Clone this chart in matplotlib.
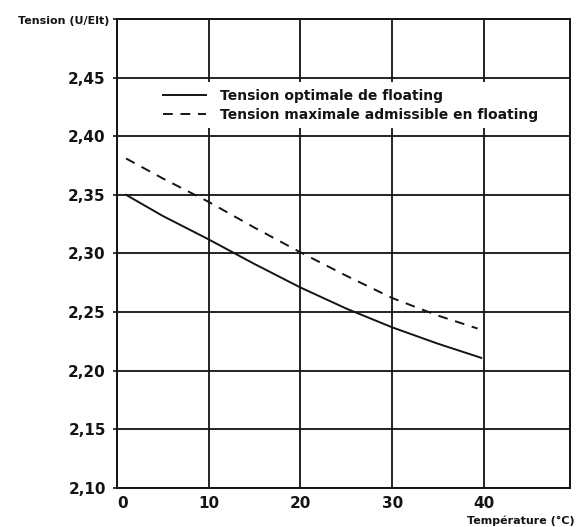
import matplotlib
matplotlib.use("Agg")
import matplotlib.pyplot as plt
from matplotlib.ticker import FuncFormatter

# values
temp_opt = [1, 5, 10, 15, 20, 25, 30, 35, 39.7]
tension_opt = [2.350, 2.332, 2.312, 2.291, 2.271, 2.253, 2.237, 2.223, 2.211]

temp_max = [1, 5, 10, 15, 20, 25, 30, 35, 39.3]
tension_max = [2.381, 2.364, 2.344, 2.322, 2.301, 2.281, 2.262, 2.247, 2.236]

x_ticks = [0, 10, 20, 30, 40]
y_ticks = [2.10, 2.15, 2.20, 2.25, 2.30, 2.35, 2.40, 2.45, 2.50]

labels = ["Tension optimale de floating",
          "Tension maximale admissible en floating"]

ink = "#141414"
plt.rcParams["font.family"] = ["DejaVu Sans"]

fig = plt.figure(figsize=(5.76, 5.27), dpi=100)
ax = fig.add_axes([0.203, 0.074, 0.787, 0.890])

ax.plot(temp_opt, tension_opt, color=ink, lw=1.4, ls="-", label=labels[0], zorder=3)
ax.plot(temp_max, tension_max, color=ink, lw=1.4, ls=(0, (5, 4)), label=labels[1], zorder=3)

ax.set_xlim(0, 49.4)
ax.set_ylim(2.10, 2.50)
ax.set_xticks(x_ticks)
ax.set_yticks(y_ticks)
ax.yaxis.set_major_formatter(FuncFormatter(
    lambda v, p: "" if abs(v - 2.50) < 1e-6 else f"{v:.2f}".replace(".", ",")))

ax.grid(True, color=ink, lw=1.3)
ax.set_axisbelow(True)
for s in ax.spines.values():
    s.set_color(ink)
    s.set_linewidth(1.4)

ax.tick_params(axis="y", direction="out", length=3, width=1.2, color=ink, pad=5,
               labelsize=11, labelcolor=ink)
ax.tick_params(axis="x", length=0, pad=6, labelsize=11, labelcolor=ink)
for lab in ax.get_yticklabels() + ax.get_xticklabels():
    lab.set_fontweight("bold")
ax.get_xticklabels()[0].set_horizontalalignment("left")

leg = ax.legend(loc="upper left", bbox_to_anchor=(0.071, 0.881), frameon=True,
                fancybox=False, fontsize=10, handlelength=3.1, handletextpad=1.0,
                labelspacing=0.35, borderpad=0.5)
leg.get_frame().set_facecolor("white")
leg.get_frame().set_edgecolor("none")
leg.get_frame().set_alpha(1)
for t in leg.get_texts():
    t.set_color(ink)
    t.set_fontweight("semibold")

fig.text(0.19, 0.96, "Tension (U/Elt)", ha="right", va="center", fontsize=8,
         fontweight="bold", color=ink)
fig.text(0.997, 0.002, "Température (°C)", ha="right", va="bottom", fontsize=8,
         fontweight="bold", color=ink)

fig.savefig("out.png", dpi=100)
